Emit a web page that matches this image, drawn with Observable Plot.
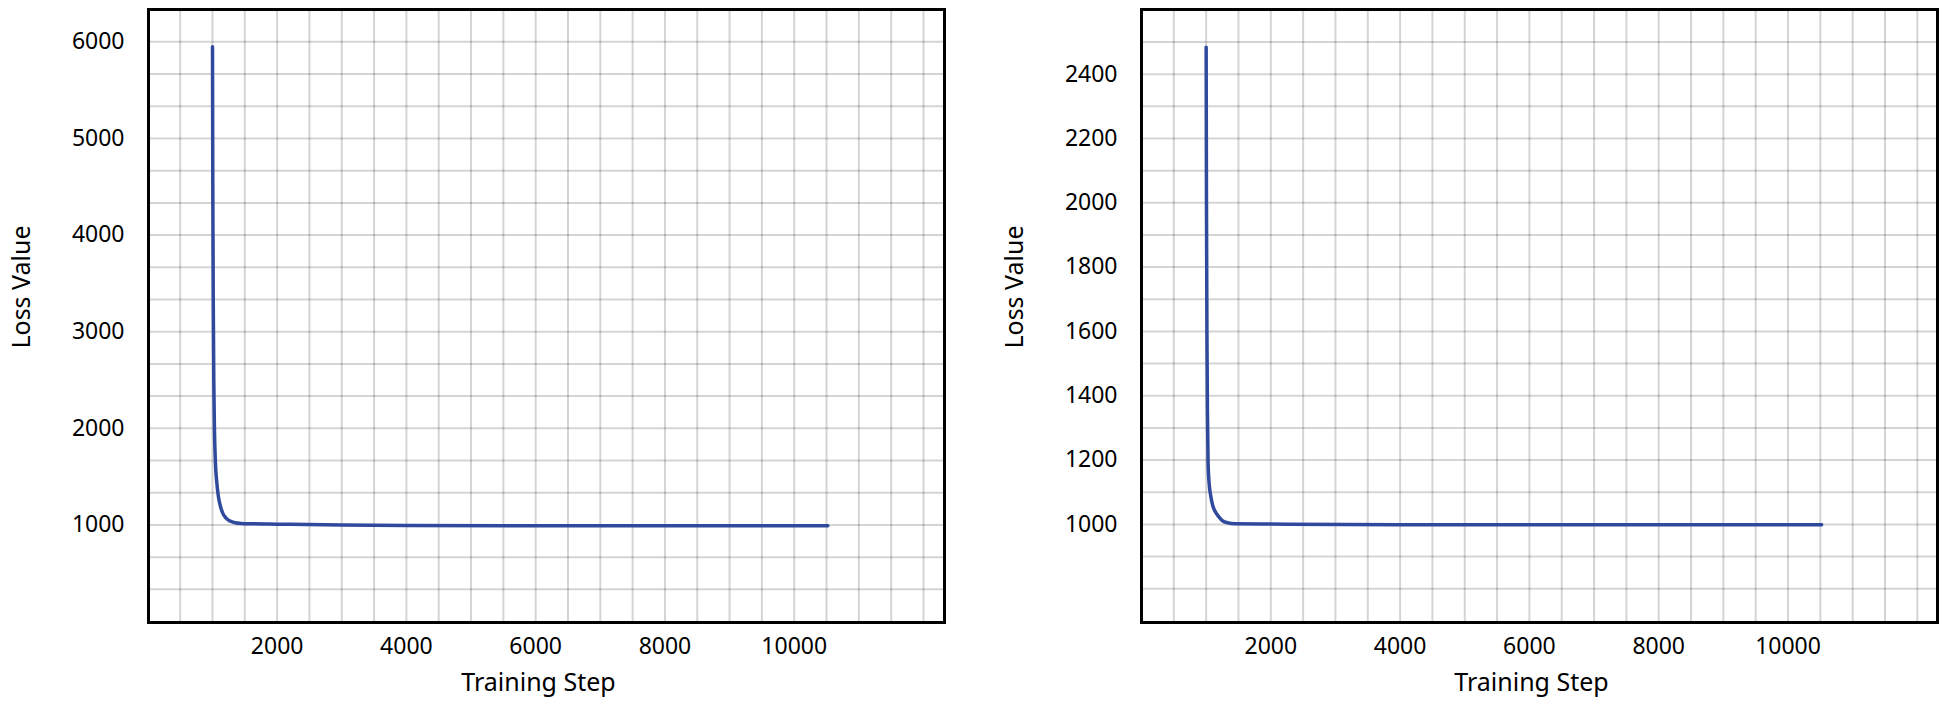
<!DOCTYPE html>
<html>
<head>
<meta charset="utf-8">
<script src="https://cdn.jsdelivr.net/npm/d3@7"></script>
<script src="https://cdn.jsdelivr.net/npm/@observablehq/plot@0.6"></script>
<style>
  html, body { margin: 0; padding: 0; background: #fff; }
  #wrap { display: flex; flex-direction: row; width: 1945px; height: 706px; }
</style>
</head>
<body>
<div id="wrap"></div>
<script>
// ---- Data ----
const stepsA = [1000, 1005, 1012, 1020, 1030, 1045, 1065, 1090, 1120, 1160, 1210, 1270, 1350, 1450, 1600, 2000, 3000, 4000, 6000, 8000, 10520];
const lossA  = [5950, 4500, 3300, 2500, 2000, 1650, 1450, 1300, 1200, 1120, 1070, 1040, 1022, 1015, 1012, 1008, 1000, 995, 992, 991, 991];

const stepsB = [1000, 1005, 1012, 1020, 1030, 1045, 1070, 1100, 1140, 1190, 1250, 1330, 1450, 2000, 4000, 6000, 8000, 10520];
const lossB  = [2484, 2000, 1600, 1350, 1190, 1130, 1090, 1060, 1040, 1025, 1012, 1005, 1002, 1001, 999, 999, 999, 999];

const xTicks = [2000, 4000, 6000, 8000, 10000];
const yTicksA = [1000, 2000, 3000, 4000, 5000, 6000];
const yTicksB = [1000, 1200, 1400, 1600, 1800, 2000, 2200, 2400];
const xGrid = d3.range(500, 12001, 500);
const yGridA = d3.range(1, 19).map(i => i * 1000 / 3);
const yGridB = d3.range(800, 2501, 100);

const xLabel = "Training Step";
const yLabel = "Loss Value";

const lineColor = "#2f4a9c";
const font = "'Noto Sans', 'Open Sans', sans-serif";

function panel({steps, loss, yTicks, yGrid, xDomain, yDomain, width, marginLeft, marginRight}) {
  const data = steps.map((s, i) => ({step: s, loss: loss[i]}));
  return Plot.plot({
    width,
    height: 706,
    marginTop: 9,
    marginBottom: 84,
    marginLeft,
    marginRight,
    style: {fontFamily: font, fontSize: "23px", color: "#000", background: "#fff", overflow: "visible"},
    x: {domain: xDomain, ticks: xTicks, tickSize: 0, tickPadding: 15, label: null, tickFormat: d => String(d)},
    y: {domain: yDomain, ticks: yTicks, tickSize: 0, tickPadding: 24, label: null, tickFormat: d => String(d)},
    marks: [
      Plot.ruleX(xGrid, {stroke: "#000", strokeOpacity: 0.17, strokeWidth: 2}),
      Plot.ruleY(yGrid, {stroke: "#000", strokeOpacity: 0.17, strokeWidth: 2}),
      Plot.line(data, {x: "step", y: "loss", stroke: lineColor, strokeWidth: 3.5, curve: "monotone-x"}),
      Plot.frame({stroke: "#000", strokeWidth: 3}),
      Plot.text([yLabel], {frameAnchor: "left", textAnchor: "middle", lineAnchor: "middle", dx: -127, dy: -29, rotate: -90, fontSize: 25, fill: "#000", text: d => d}),
      Plot.text([xLabel], {frameAnchor: "bottom", dx: -8, dy: 68, fontSize: 25, fill: "#000", text: d => d})
    ]
  });
}

const wrap = document.getElementById("wrap");
wrap.appendChild(panel({
  steps: stepsA, loss: lossA, yTicks: yTicksA, yGrid: yGridA,
  xDomain: [10, 12325], yDomain: [-10, 6335],
  width: 972, marginLeft: 148, marginRight: 28
}));
wrap.appendChild(panel({
  steps: stepsB, loss: lossB, yTicks: yTicksB, yGrid: yGridB,
  xDomain: [0, 12312], yDomain: [695, 2601],
  width: 973, marginLeft: 169, marginRight: 8
}));
</script>
</body>
</html>
